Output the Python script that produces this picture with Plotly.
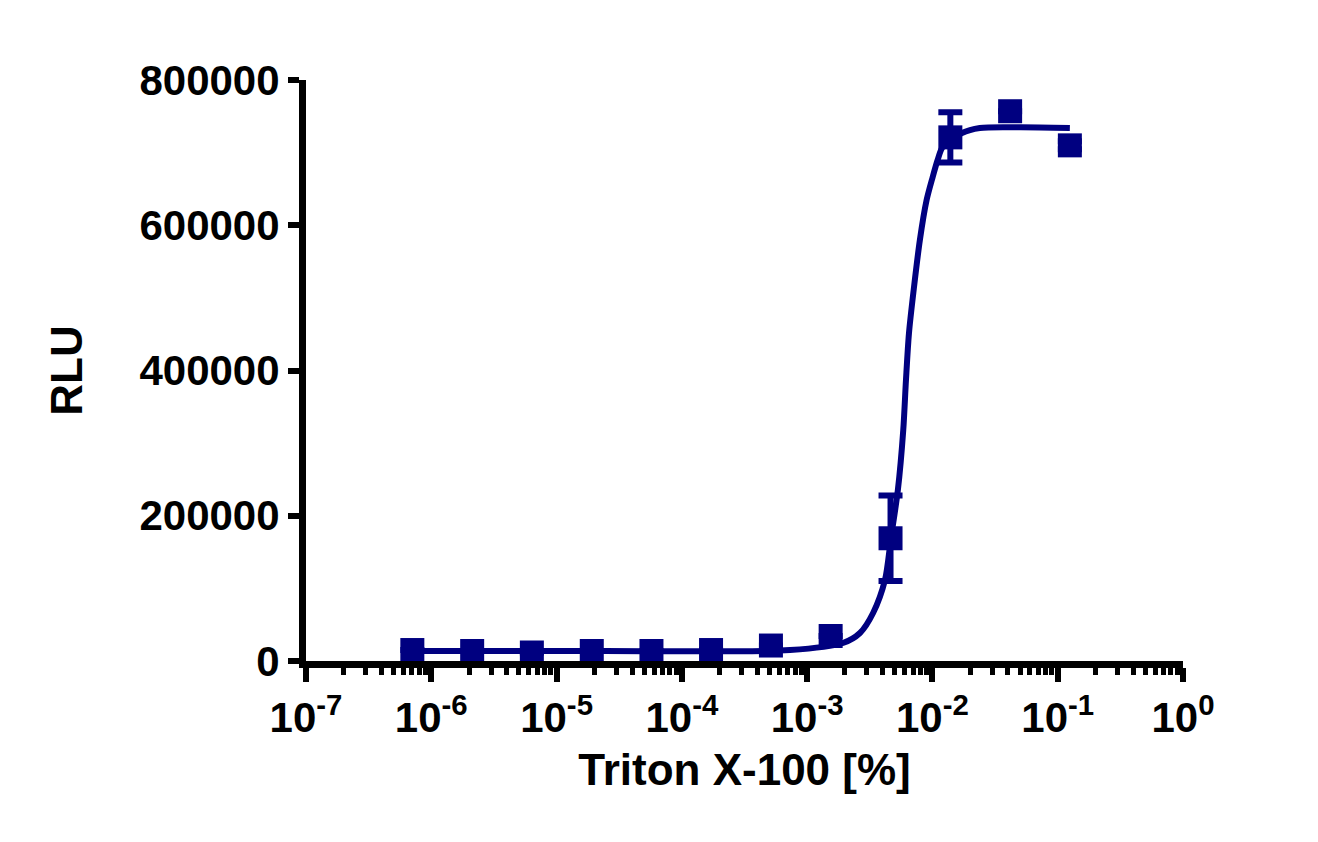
import plotly.graph_objects as go

# Triton X-100 concentrations (%), 3-fold dilutions
conc = [7.06e-7, 2.12e-6, 6.35e-6, 1.91e-5, 5.72e-5, 1.71e-4,
        5.14e-4, 1.54e-3, 4.63e-3, 1.39e-2, 4.17e-2, 1.25e-1]
rlu_mean = [15100, 13800, 11700, 13800, 13800, 15100,
            21300, 34400, 169000, 721000, 757000, 710000]
rlu_err = [0, 0, 0, 0, 0, 0, 0, 0, 59000, 34500, 0, 5500]

# fitted curve
fit_x = [7.06e-7, 2.23e-5, 7.30e-4, 1.93e-3, 2.64e-3, 3.36e-3, 4.18e-3,
         4.67e-3, 5.30e-3, 5.85e-3, 6.15e-3, 6.50e-3, 7.13e-3, 7.94e-3,
         8.99e-3, 1.005e-2, 1.10e-2, 1.21e-2, 1.72e-2, 2.39e-2, 5.0e-2, 1.25e-1]
fit_y = [13800, 13800, 15100, 24800, 38600, 66100, 111500,
         169400, 235500, 318000, 387000, 451700, 515000, 579700,
         634800, 666500, 689900, 707800, 727000, 734000, 735000, 734000]

x_tickvals = [1e-7, 1e-6, 1e-5, 1e-4, 1e-3, 1e-2, 1e-1, 1]
x_ticktext = ['10<sup>-7</sup>', '10<sup>-6</sup>', '10<sup>-5</sup>', '10<sup>-4</sup>',
              '10<sup>-3</sup>', '10<sup>-2</sup>', '10<sup>-1</sup>', '10<sup>0</sup>']
y_tickvals = [0, 200000, 400000, 600000, 800000]
y_ticktext = ['0', '200000', '400000', '600000', '800000']

navy = '#000080'
font_family = 'Liberation Sans, Arial, sans-serif'

fig = go.Figure()
fig.add_trace(go.Scatter(
    x=fit_x, y=fit_y, mode='lines',
    line=dict(color=navy, width=6, shape='spline', smoothing=0.8),
    showlegend=False, hoverinfo='skip',
))
fig.add_trace(go.Scatter(
    x=conc, y=rlu_mean, mode='markers',
    marker=dict(symbol='square', size=24, color=navy),
    error_y=dict(type='data', array=rlu_err, visible=True,
                 color=navy, thickness=6, width=12),
    showlegend=False,
))

# page body adds an 8px offset, margins compensate for it
fig.update_layout(
    width=1318, height=842,
    margin=dict(l=298, r=143, t=72, b=189),
    plot_bgcolor='white', paper_bgcolor='white',
    font=dict(family=font_family, size=42, color='black', weight='bold'),
)
fig.update_xaxes(
    type='log', range=[-7, 0],
    tickmode='array', tickvals=x_tickvals, ticktext=x_ticktext,
    showline=True, linecolor='black', linewidth=7,
    ticks='outside', ticklen=14, tickwidth=6, tickcolor='black',
    minor=dict(ticks='outside', ticklen=7, tickwidth=5, tickcolor='black', dtick='D1'),
    showgrid=False, zeroline=False,
    tickfont=dict(family=font_family, size=42, weight='bold'),
    title=dict(text='Triton X-100 [%]', standoff=16,
               font=dict(family=font_family, size=44, weight='bold')),
)
fig.update_yaxes(
    range=[0, 800000],
    tickmode='array', tickvals=y_tickvals, ticktext=y_ticktext,
    showline=True, linecolor='black', linewidth=7,
    ticks='outside', ticklen=11, tickwidth=6, tickcolor='black',
    showgrid=False, zeroline=False,
    tickfont=dict(family=font_family, size=42, weight='bold'),
    title=dict(text='RLU', standoff=46,
               font=dict(family=font_family, size=44, weight='bold')),
)

fig.write_html('out.html')
